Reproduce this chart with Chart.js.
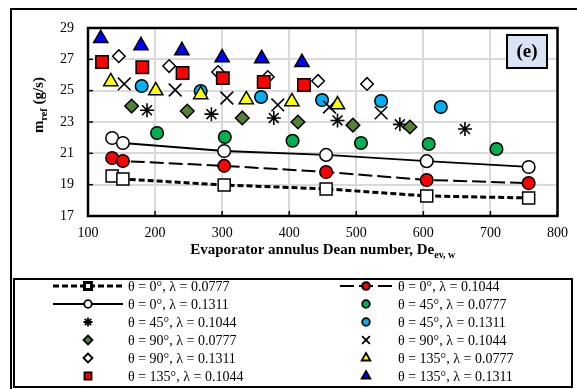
<!DOCTYPE html>
<html>
<head>
<meta charset="utf-8">
<script src="https://cdn.jsdelivr.net/npm/chart.js@4/dist/chart.umd.min.js"></script>
<style>
  html, body { margin: 0; padding: 0; background: #fff; }
  #wrap { width: 577px; height: 389px; position: relative; }
</style>
</head>
<body>
<div id="wrap"><canvas id="chart" width="577" height="389"></canvas></div>
<script>
// ===== values =====
const xTicks = [100, 200, 300, 400, 500, 600, 700, 800];
const yTicks = [17, 19, 21, 23, 25, 27, 29];

// theta = 0 (three lambdas share the Dean numbers)
const deT0 = [136, 152, 303, 455, 605, 757];
const mT0L0777 = [19.56, 19.36, 18.98, 18.73, 18.28, 18.15];
const mT0L1044 = [20.70, 20.51, 20.20, 19.81, 19.30, 19.10];
const mT0L1311 = [21.98, 21.66, 21.15, 20.90, 20.50, 20.13];

// theta = 45
const deT45L0777 = [203, 304, 405, 507, 608, 709];
const mT45L0777 = [22.30, 22.04, 21.80, 21.66, 21.60, 21.28];
const deT45L1044 = [188, 284, 377, 472, 565, 662];
const mT45L1044 = [23.75, 23.50, 23.26, 23.10, 22.85, 22.55];
const deT45L1311 = [180, 268, 358, 449, 537, 626];
const mT45L1311 = [25.30, 24.98, 24.60, 24.40, 24.34, 23.96];

// theta = 90
const deT90L0777 = [165, 248, 330, 413, 495, 580];
const mT90L0777 = [24.02, 23.70, 23.26, 23.00, 22.80, 22.68];
const deT90L1044 = [154, 230, 307, 383, 460, 537];
const mT90L1044 = [25.43, 25.04, 24.53, 24.09, 23.96, 23.58];
const deT90L1311 = [146, 221, 294, 368, 443, 516];
const mT90L1311 = [27.20, 26.57, 26.19, 25.87, 25.62, 25.43];

// theta = 135
const deT135L0777 = [134, 201, 268, 336, 404, 472];
const mT135L0777 = [25.58, 25.00, 24.75, 24.43, 24.30, 24.10];
const deT135L1044 = [121, 181, 241, 301, 362, 422];
const mT135L1044 = [26.83, 26.50, 26.13, 25.80, 25.55, 25.36];
const deT135L1311 = [119, 179, 240, 300, 359, 419];
const mT135L1311 = [28.33, 27.88, 27.56, 27.10, 27.05, 26.80];

const labels = [
    'θ = 0°, λ = 0.0777', 'θ = 0°, λ = 0.1044', 'θ = 0°, λ = 0.1311',
    'θ = 45°, λ = 0.0777', 'θ = 45°, λ = 0.1044', 'θ = 45°, λ = 0.1311',
    'θ = 90°, λ = 0.0777', 'θ = 90°, λ = 0.1044', 'θ = 90°, λ = 0.1311',
    'θ = 135°, λ = 0.0777', 'θ = 135°, λ = 0.1044', 'θ = 135°, λ = 0.1311'
];
const xs = [deT0, deT0, deT0, deT45L0777, deT45L1044, deT45L1311,
    deT90L0777, deT90L1044, deT90L1311, deT135L0777, deT135L1044, deT135L1311];
const ys = [mT0L0777, mT0L1044, mT0L1311, mT45L0777, mT45L1044, mT45L1311,
    mT90L0777, mT90L1044, mT90L1311, mT135L0777, mT135L1044, mT135L1311];

// ===== marker / line styles =====
const looks = [
    { shape: 'rect', r: 8.5, fill: '#ffffff', dash: [6, 3], lw: 3 },
    { shape: 'circle', r: 6.3, fill: '#ff0000', dash: [14, 5], lw: 2 },
    { shape: 'circle', r: 6.3, fill: '#ffffff', dash: [], lw: 1.8 },
    { shape: 'circle', r: 6.3, fill: '#00b050' },
    { shape: 'star', r: 7, fill: '#000000' },
    { shape: 'circle', r: 6.3, fill: '#00b0f0' },
    { shape: 'rectRot', r: 6.8, fill: '#548235' },
    { shape: 'crossRot', r: 9, fill: '#000000' },
    { shape: 'rectRot', r: 6.3, fill: '#ffffff' },
    { shape: 'triangle', r: 8.2, fill: '#ffff00' },
    { shape: 'rect', r: 8.8, fill: '#ff0000' },
    { shape: 'triangle', r: 8.2, fill: '#0000ff' }
];
const legendR = { rect: 5, circle: 3.8, star: 4.5, rectRot: 4.5, crossRot: 5.5, triangle: 5 };

const datasets = labels.map((lab, i) => {
    const s = looks[i];
    const line = s.lw !== undefined;
    return {
        label: lab,
        data: xs[i].map((x, k) => ({ x, y: ys[i][k] })),
        showLine: line,
        borderColor: '#000000',
        borderWidth: line ? s.lw : 0,
        borderDash: line ? s.dash : [],
        pointStyle: s.shape,
        pointRadius: s.r,
        pointHoverRadius: s.r,
        pointBackgroundColor: s.fill,
        pointBorderColor: '#000000',
        pointBorderWidth: (s.shape === 'star' || s.shape === 'crossRot') ? 1.6 : 1.5,
        order: 20 - i
    };
});

const SERIF = "'Liberation Serif', 'Times New Roman', serif";

function subText(ctx, parts, cx, cy) {
    // parts: [text, size, dy]
    let total = 0;
    parts.forEach(p => { ctx.font = 'bold ' + p[1] + 'px ' + SERIF; total += ctx.measureText(p[0]).width; });
    let x = cx - total / 2;
    ctx.textAlign = 'left';
    ctx.textBaseline = 'alphabetic';
    parts.forEach(p => {
        ctx.font = 'bold ' + p[1] + 'px ' + SERIF;
        ctx.fillText(p[0], x, cy + p[2]);
        x += ctx.measureText(p[0]).width;
    });
}

const decor = {
    id: 'decor',
    beforeDraw(chart) {
        const ctx = chart.ctx;
        ctx.save();
        ctx.fillStyle = '#ffffff';
        ctx.fillRect(0, 0, chart.width, chart.height);
        ctx.restore();
    },
    beforeDatasetsDraw(chart) {
        const ctx = chart.ctx, a = chart.chartArea;
        const xs_ = chart.scales.x, ys_ = chart.scales.y;
        ctx.save();
        ctx.strokeStyle = '#000';
        ctx.lineWidth = 1.5;
        // inward tick marks
        xTicks.forEach(v => {
            const px = xs_.getPixelForValue(v);
            ctx.beginPath(); ctx.moveTo(px, a.bottom); ctx.lineTo(px, a.bottom - 5); ctx.stroke();
        });
        yTicks.forEach(v => {
            const py = ys_.getPixelForValue(v);
            ctx.beginPath(); ctx.moveTo(a.left, py); ctx.lineTo(a.left + 5, py); ctx.stroke();
        });
        ctx.lineWidth = 2.5;
        ctx.strokeRect(a.left, a.top, a.right - a.left, a.bottom - a.top);
        ctx.restore();
    },
    afterDraw(chart) {
        const ctx = chart.ctx, a = chart.chartArea;
        ctx.save();
        ctx.fillStyle = '#000';

        // axis titles
        subText(ctx, [['Evaporator annulus Dean number, De', 15, 0], ['ev, w', 10, 4]], (a.left + a.right) / 2, 254);
        ctx.save();
        ctx.translate(43, 105);
        ctx.rotate(-Math.PI / 2);
        subText(ctx, [['m', 15, 0], ['ref', 10, 4], [' (g/s)', 15, 0]], 0, 0);
        ctx.restore();

        // (e) panel tag
        ctx.fillStyle = '#dae3f3';
        ctx.fillRect(507, 35, 40, 33);
        ctx.strokeStyle = '#000';
        ctx.lineWidth = 2;
        ctx.strokeRect(507, 35, 40, 33);
        ctx.fillStyle = '#000';
        ctx.font = 'bold 19px ' + SERIF;
        ctx.textAlign = 'center';
        ctx.textBaseline = 'middle';
        ctx.fillText('(e)', 527, 52);

        // legend box
        ctx.lineWidth = 2;
        ctx.strokeRect(14, 279, 558, 108);
        const rowY = [286, 304, 322, 340, 358, 376];
        const cols = [{ x0: 53, x1: 123, tx: 128 }, { x0: 340, x1: 392, tx: 398 }];
        labels.forEach((lab, i) => {
            const c = cols[i % 2], y = rowY[Math.floor(i / 2)], s = looks[i];
            const mx = (c.x0 + c.x1) / 2;
            if (s.lw !== undefined) {
                ctx.beginPath();
                ctx.setLineDash(s.dash);
                ctx.lineWidth = s.lw;
                ctx.moveTo(c.x0, y); ctx.lineTo(c.x1, y);
                ctx.stroke();
                ctx.setLineDash([]);
            }
            ctx.fillStyle = s.fill;
            ctx.strokeStyle = '#000';
            const bw = (s.shape === 'star' || s.shape === 'crossRot') ? 2 : 1.5;
            Chart.helpers.drawPoint(ctx, { pointStyle: s.shape, radius: legendR[s.shape], rotation: 0, borderWidth: bw }, mx, y);
            ctx.fillStyle = '#000';
            ctx.font = '14px ' + SERIF;
            ctx.textAlign = 'left';
            ctx.textBaseline = 'middle';
            ctx.fillText(lab, c.tx, y + 1);
        });

        // outer frame
        ctx.lineWidth = 2;
        ctx.beginPath();
        ctx.moveTo(11, 389); ctx.lineTo(11, 9); ctx.lineTo(577, 9);
        ctx.stroke();
        ctx.restore();
    }
};

new Chart(document.getElementById('chart'), {
    type: 'scatter',
    data: { datasets },
    options: {
        responsive: false,
        animation: false,
        layout: { padding: { left: 0, top: 28, right: 19, bottom: 0 } },
        plugins: { legend: { display: false }, tooltip: { enabled: false } },
        scales: {
            x: {
                type: 'linear', min: 100, max: 800,
                afterFit: s => { s.height = 173; },
                afterBuildTicks: s => { s.ticks = xTicks.map(v => ({ value: v })); },
                grid: { color: '#d9d9d9', lineWidth: 2, drawTicks: false },
                border: { display: false },
                ticks: { color: '#000', padding: 9, font: { family: SERIF, size: 14 } }
            },
            y: {
                type: 'linear', min: 17, max: 29,
                afterFit: s => { s.width = 88; },
                afterBuildTicks: s => { s.ticks = yTicks.map(v => ({ value: v })); },
                grid: { color: '#d9d9d9', lineWidth: 2, drawTicks: false },
                border: { display: false },
                ticks: { color: '#000', padding: 14, font: { family: SERIF, size: 14 } }
            }
        }
    },
    plugins: [decor]
});
</script>
</body>
</html>
